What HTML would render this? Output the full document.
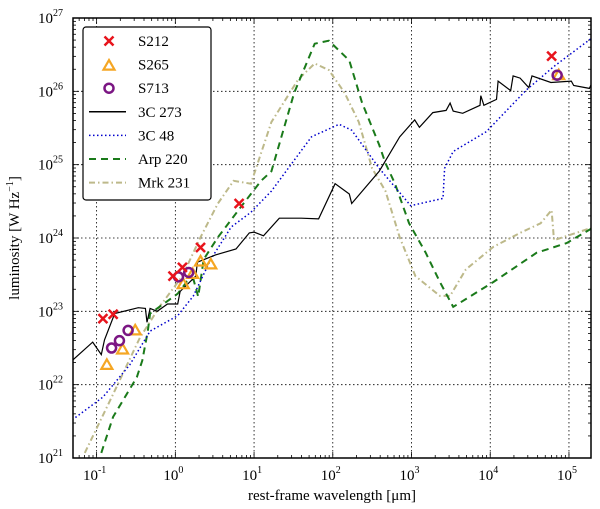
<!DOCTYPE html>
<html><head><meta charset="utf-8"><style>
body{margin:0;background:#fff;}
svg{display:block;font-family:"Liberation Serif",serif;}
</style></head><body>
<svg id="chart" width="600" height="509" viewBox="0 0 600 509"></svg>
<script>
// log10 wavelength (micron) / log10 luminosity (W/Hz)
const s212X=[-0.92,-0.79,-0.03,0.09,0.32,0.81,4.78];
const s212Y=[22.90,22.96,23.48,23.60,23.87,24.47,26.48];
const s265X=[-0.87,-0.67,-0.51,0.10,0.22,0.32,0.45,4.87];
const s265Y=[22.27,22.48,22.74,23.37,23.51,23.68,23.64,26.22];
const s713X=[-0.81,-0.71,-0.60,0.04,0.17,4.85];
const s713Y=[22.50,22.60,22.74,23.47,23.53,26.22];
const c273X=[-1.31,-1.05,-0.94,-0.90,-0.77,-0.47,-0.38,-0.36,-0.32,-0.23,-0.10,0.03,0.06,0.26,0.28,0.51,0.77,0.94,1.00,1.12,1.32,1.60,1.82,2.03,2.21,2.24,2.59,2.85,3.04,3.10,3.27,3.44,3.49,3.53,3.65,3.87,3.88,3.92,4.08,4.10,4.26,4.29,4.38,4.49,4.53,4.77,5.03,5.06,5.26,5.32];
const c273Y=[22.33,22.58,22.41,22.61,22.97,23.05,23.04,22.85,23.04,23.00,23.10,23.10,23.27,23.48,23.67,23.77,23.85,24.07,24.08,24.03,24.27,24.27,24.26,24.74,24.60,24.47,24.91,25.38,25.61,25.51,25.71,25.74,25.84,25.73,25.70,25.81,25.94,25.81,25.89,26.14,26.01,26.21,26.18,26.05,26.21,26.12,26.14,26.08,26.04,26.18];
const c48X=[-1.31,-0.92,-0.58,-0.32,0.03,0.23,0.45,0.71,0.96,1.22,1.73,2.08,2.24,2.59,2.99,3.40,3.42,3.53,3.95,4.46,4.81,5.32];
const c48Y=[21.52,21.83,22.27,22.73,22.94,23.21,23.71,24.15,24.35,24.64,25.38,25.55,25.47,24.95,24.44,24.54,24.95,25.18,25.45,26.02,26.34,26.75];
const arpX=[-0.94,-0.79,-0.49,-0.42,-0.35,-0.32,0.03,0.15,0.23,0.29,0.36,0.54,0.83,1.09,1.22,1.51,1.77,1.95,2.21,2.37,2.59,2.67,2.79,2.97,3.18,3.36,3.53,4.04,4.59,4.97,5.32];
const arpY=[21.07,21.56,22.10,22.33,22.73,22.97,23.24,23.41,23.44,23.20,23.71,24.01,24.42,24.78,24.91,25.98,26.65,26.69,26.42,25.85,25.27,25.02,24.74,24.20,23.80,23.40,23.06,23.40,23.80,23.93,24.15];
const mrkX=[-1.15,-0.79,-0.45,-0.19,0.09,0.32,0.54,0.74,0.96,1.22,1.56,1.77,1.95,2.15,2.33,2.50,2.67,2.85,3.05,3.36,3.49,3.69,4.04,4.38,4.64,4.78,4.81,5.32];
const mrkY=[21.07,21.87,22.64,23.08,23.48,24.01,24.47,24.78,24.74,25.58,26.16,26.38,26.29,25.98,25.58,24.95,24.64,24.01,23.48,23.21,23.21,23.57,23.88,24.07,24.20,24.38,23.97,24.15];
const xTickExps=[-1,0,1,2,3,4,5];
const yTickExps=[21,22,23,24,25,26,27];

const L=73,R=591,T=18,B=458;
const xMin=-1.30,xMax=5.28,yMin=21,yMax=27;
const sx=v=>L+(v-xMin)/(xMax-xMin)*(R-L);
const sy=v=>B-(v-yMin)/(yMax-yMin)*(B-T);
const NS="http://www.w3.org/2000/svg";
const svg=document.getElementById('chart');
function mk(tag,attrs,parent){const e=document.createElementNS(NS,tag);for(const k in attrs)e.setAttribute(k,attrs[k]);(parent||svg).appendChild(e);return e;}

const clip=mk('clipPath',{id:'pc'});mk('rect',{x:L,y:T,width:R-L,height:B-T},clip);

// grid
const grid=mk('g',{});


xTickExps.forEach(e=>{mk('line',{x1:sx(e),x2:sx(e),y1:T,y2:B,stroke:'#000','stroke-width':0.8,'stroke-dasharray':'1.5,2.5'},grid);});
yTickExps.forEach(e=>{mk('line',{x1:L,x2:R,y1:sy(e),y2:sy(e),stroke:'#000','stroke-width':0.8,'stroke-dasharray':'1.5,2.5'},grid);});

// ticks
const ticks=mk('g',{stroke:'#000','stroke-width':0.8});


for(let e=-2;e<=5;e++){for(let m=1;m<10;m++){const v=e+Math.log10(m);if(v<xMin||v>xMax)continue;const len=m===1?6:3;const x=sx(v);mk('line',{x1:x,x2:x,y1:B,y2:B-len},ticks);mk('line',{x1:x,x2:x,y1:T,y2:T+len},ticks);}}
for(let e=21;e<27;e++){for(let m=1;m<10;m++){const v=e+Math.log10(m);const len=m===1?6:3;const y=sy(v);mk('line',{x1:L,x2:L+len,y1:y,y2:y},ticks);mk('line',{x1:R,x2:R-len,y1:y,y2:y},ticks);}}

// tick labels
xTickExps.forEach(e=>{const t=mk('text',{x:sx(e)-2,y:B+22,'font-size':15,'text-anchor':'middle'});


t.innerHTML='10<tspan dy="-7" font-size="10">'+e+'</tspan>';});
yTickExps.forEach(e=>{const t=mk('text',{x:L-10,y:sy(e)+5,'font-size':15,'text-anchor':'end'});


t.innerHTML='10<tspan dy="-7" font-size="10">'+e+'</tspan>';});

// axis titles
const xt=mk('text',{x:332,y:500,'font-size':15,'text-anchor':'middle'});


xt.textContent='rest-frame wavelength [μm]';
const yt=mk('text',{x:0,y:0,'font-size':15,'text-anchor':'middle',transform:'translate(19,238) rotate(-90)'});


yt.innerHTML='luminosity [W Hz<tspan dy="-6" font-size="10">−1</tspan><tspan dy="6">]</tspan>';

// series
const plot=mk('g',{'clip-path':'url(#pc)'});
function line(xs,ys,color,dash,w,name){const d=xs.map((x,i)=>(i?'L':'M')+sx(x).toFixed(1)+','+sy(ys[i]).toFixed(1)).join('');
const p=mk('path',{d:d,fill:'none',stroke:color,'stroke-width':w,'stroke-dasharray':dash},plot);

}
line(mrkX,mrkY,'#bdb98a','6,3,1.5,3',2,'mrk231-line');
line(arpX,arpY,'#1a7a1a','7,5',2,'arp220-line');
line(c48X,c48Y,'#0000cc','1.5,2.5',1.5,'3c48-line');
line(c273X,c273Y,'#000','none',1.2,'3c273-line');

function cross(x,y,g){mk('path',{d:`M${x-4.5},${y-4.5}L${x+4.5},${y+4.5}M${x-4.5},${y+4.5}L${x+4.5},${y-4.5}`,stroke:'#e8141c','stroke-width':2.5,fill:'none'},g);}
function tri(x,y,g){mk('path',{d:`M${x},${y-5.5}L${x+5.5},${y+4}L${x-5.5},${y+4}Z`,stroke:'#f5a623','stroke-width':2.2,fill:'none'},g);}
function circ(x,y,g){mk('circle',{cx:x,cy:y,r:4.5,stroke:'#7b1683','stroke-width':2.5,fill:'none'},g);}
const g265=mk('g',{});


s265X.forEach((x,i)=>tri(sx(x),sy(s265Y[i]),g265));
const g713=mk('g',{});


s713X.forEach((x,i)=>circ(sx(x),sy(s713Y[i]),g713));
const g212=mk('g',{});


s212X.forEach((x,i)=>cross(sx(x),sy(s212Y[i]),g212));

// frame
const fr=mk('rect',{x:L,y:T,width:R-L,height:B-T,fill:'none',stroke:'#000','stroke-width':1.5});



// legend
const lg=mk('g',{});


mk('rect',{x:83,y:27,width:128,height:173,rx:3,fill:'#fff',stroke:'#000','stroke-width':1.2},lg);
const names=['S212','S265','S713','3C 273','3C 48','Arp 220','Mrk 231'];
names.forEach((n,i)=>{const y=41+i*23.6;
if(i===0)cross(109,y,lg);else if(i===1)tri(109,y+1,lg);else if(i===2)circ(109,y,lg);
else{const st=[['#000','none',1.5],['#0000cc','1.5,2.5',1.5],['#1a7a1a','7,5',2],['#bdb98a','6,3,1.5,3',2]][i-3];
mk('line',{x1:89,x2:126,y1:y,y2:y,stroke:st[0],'stroke-dasharray':st[1],'stroke-width':st[2]},lg);}
const t=mk('text',{x:138,y:y+5,'font-size':15},lg);


t.textContent=n;});
</script>
</body></html>
